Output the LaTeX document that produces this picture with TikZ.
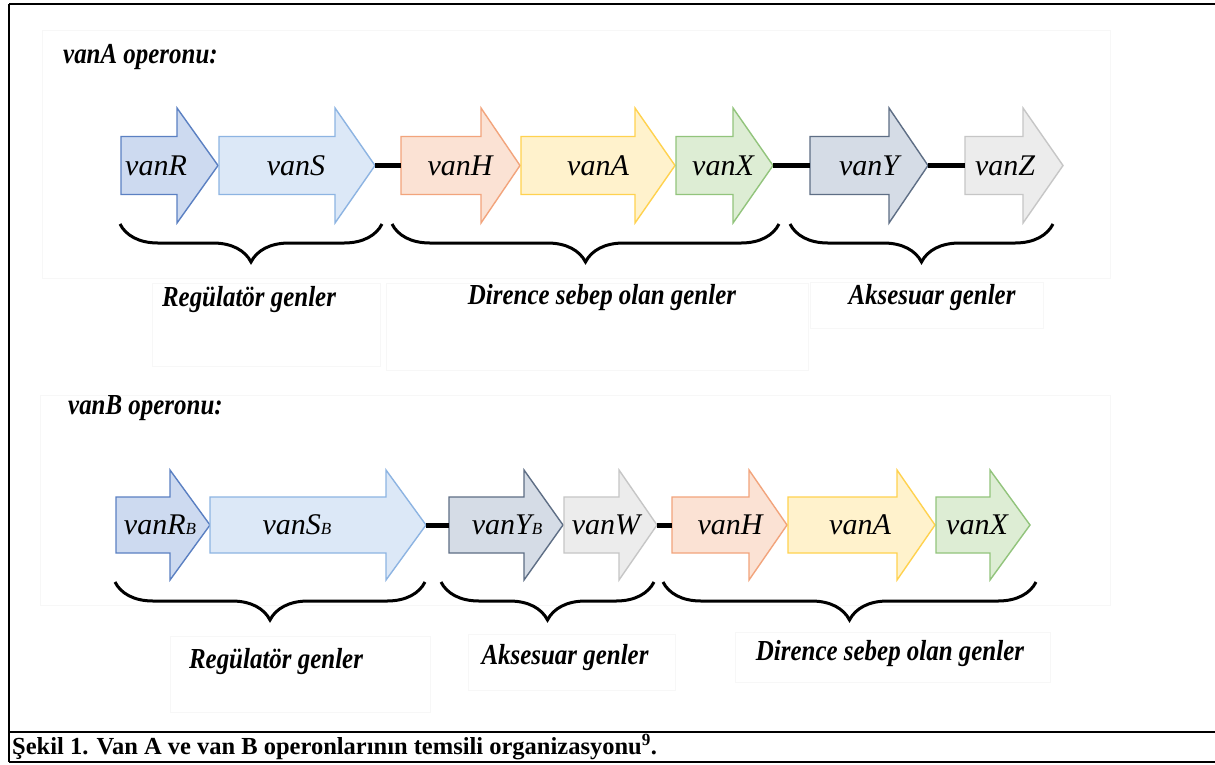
\documentclass[tikz,border=0pt]{standalone}
\usepackage{fontspec}
\setmainfont{Liberation Serif}[
  UprightFont={Liberation Serif},
  BoldFont={Liberation Serif Bold},
  ItalicFont={Liberation Serif Italic},
  BoldItalicFont={Liberation Serif Bold Italic}]
\usetikzlibrary{decorations.pathreplacing}
\definecolor{rFill}{HTML}{CDDAF0}
\definecolor{rLine}{HTML}{5B80C2}
\definecolor{sFill}{HTML}{DCE8F7}
\definecolor{sLine}{HTML}{8DB4E2}
\definecolor{hFill}{HTML}{FBE2D4}
\definecolor{hLine}{HTML}{F2A47C}
\definecolor{aFill}{HTML}{FFF2CC}
\definecolor{aLine}{HTML}{FFD24F}
\definecolor{xFill}{HTML}{DDEDD4}
\definecolor{xLine}{HTML}{92C47C}
\definecolor{yFill}{HTML}{D5DCE6}
\definecolor{yLine}{HTML}{5E6E85}
\definecolor{zFill}{HTML}{ECECEC}
\definecolor{zLine}{HTML}{C6C6C6}
\newcommand\narrow[1]{\scalebox{0.86}[1]{#1}}
\tikzset{
  genebox/.style={line width=1.4pt, line join=miter},
  genelabel/.style={inner sep=0pt, font=\fontsize{30}{30}\selectfont\itshape},
  grouplabel/.style={inner sep=0pt, font=\fontsize{29}{29}\selectfont\bfseries\itshape},
  titlelabel/.style={inner sep=0pt, anchor=west, font=\fontsize{29}{29}\selectfont\bfseries\itshape},
  captionlabel/.style={inner sep=0pt, anchor=west, font=\fontsize{24.5}{24.5}\selectfont\bfseries},
  link/.style={line width=5pt, line cap=butt},
  bracket/.style={line width=3pt, decorate, decoration={brace, amplitude=38pt}},
  faint/.style={draw=black!3, line width=0.8pt},
  frame/.style={line width=2.5pt}
}
% #1 name, #2 left x, #3 head start x, #4 tip x, #5 centre y, #6 fill, #7 line, #8 text, #9 text x
\newcommand\genearrow[9]{%
  \coordinate (#1-l) at (#2,#5);
  \coordinate (#1-t) at (#4,#5);
  \draw[genebox, fill=#6, draw=#7]
    (#2,#5-\bh) -- (#3,#5-\bh) -- (#3,#5-\hh) -- (#4,#5) --
    (#3,#5+\hh) -- (#3,#5+\bh) -- (#2,#5+\bh) -- cycle;
  \node[genelabel] (#1) at (#9,#5) {#8};
}
\newcommand\subB{{\fontsize{17}{17}\selectfont B}}
\begin{document}
\begin{tikzpicture}[x=1pt, y=-1pt]
\useasboundingbox (0,0) rectangle (1215,764);
\fill[white] (0,0) rectangle (1215,764);

% faint scan edges
\draw[faint] (42,30) rectangle (1110,278);
\draw[faint] (152,283) rectangle (380,366);
\draw[faint] (386,283) rectangle (808,370);
\draw[faint] (810,282) rectangle (1043,328);
\draw[faint] (40,395) rectangle (1110,605);
\draw[faint] (170,636) rectangle (430,712);
\draw[faint] (468,634) rectangle (675,690);
\draw[faint] (735,632) rectangle (1050,682);

% outer frame and caption row
\draw[frame] (9,4) -- (1218,4);
\draw[frame] (9,4) -- (9,762);
\draw[frame] (9,762) -- (1218,762);
\draw[frame] (9,732) -- (1218,732);

% titles
\node[titlelabel] (titleA) at (63,57) {\narrow{vanA operonu:}};
\node[titlelabel] (titleB) at (68,408) {\narrow{vanB operonu:}};

% ---- vanA operon ----
\def\bh{29}\def\hh{57.5}
\genearrow{rA}{121}{177}{218}{165.5}{rFill}{rLine}{vanR}{156}
\genearrow{sA}{219}{335}{375}{165.5}{sFill}{sLine}{vanS}{296}
\genearrow{hA}{401}{481}{520}{165.5}{hFill}{hLine}{vanH}{460}
\genearrow{aA}{521}{635}{675}{165.5}{aFill}{aLine}{vanA}{598}
\genearrow{xA}{676}{733}{773}{165.5}{xFill}{xLine}{vanX}{723}
\genearrow{yA}{810}{889}{928}{165.5}{yFill}{yLine}{vanY}{869}
\genearrow{zA}{965}{1023}{1063}{165.5}{zFill}{zLine}{vanZ}{1005}
\draw[link] (sA-t) -- (hA-l);
\draw[link] (xA-t) -- (yA-l);
\draw[link] (yA-t) -- (zA-l);

\draw[bracket] (382,224) -- (120,224);
\draw[bracket] (779,224) -- (392,224);
\draw[bracket] (1053,224) -- (790,224);
\node[grouplabel] (regA) at (249,300) {\narrow{Regülatör genler}};
\node[grouplabel] (dirA) at (602,298) {\narrow{Dirence sebep olan genler}};
\node[grouplabel] (aksA) at (932,298) {\narrow{Aksesuar genler}};

% ---- vanB operon ----
\def\bh{28}\def\hh{55}
\genearrow{rB}{116}{170}{210}{525}{rFill}{rLine}{vanR\subB}{160}
\genearrow{sB}{210}{386}{426}{525}{sFill}{sLine}{vanS\subB}{297}
\genearrow{yB}{449}{524}{563}{525}{yFill}{yLine}{vanY\subB}{507}
\genearrow{wB}{564}{619}{657}{525}{zFill}{zLine}{vanW}{606}
\genearrow{hB}{672}{749}{787}{525}{hFill}{hLine}{vanH}{730}
\genearrow{aB}{788}{897}{935}{525}{aFill}{aLine}{vanA}{860}
\genearrow{xB}{936}{990}{1030}{525}{xFill}{xLine}{vanX}{977}
\draw[link] (sB-t) -- (yB-l);
\draw[link] (wB-t) -- (hB-l);

\draw[bracket] (425,582) -- (115,582);
\draw[bracket] (654,582) -- (441,582);
\draw[bracket] (1036,582) -- (663,582);
\node[grouplabel] (regB) at (276,662) {\narrow{Regülatör genler}};
\node[grouplabel] (aksB) at (565,658) {\narrow{Aksesuar genler}};
\node[grouplabel] (dirB) at (890,654) {\narrow{Dirence sebep olan genler}};

% caption
\node[captionlabel] (cap) at (12,747) {Şekil 1. Van A ve van B operonlarının temsili organizasyonu\textsuperscript{9}.};
\end{tikzpicture}
\end{document}
